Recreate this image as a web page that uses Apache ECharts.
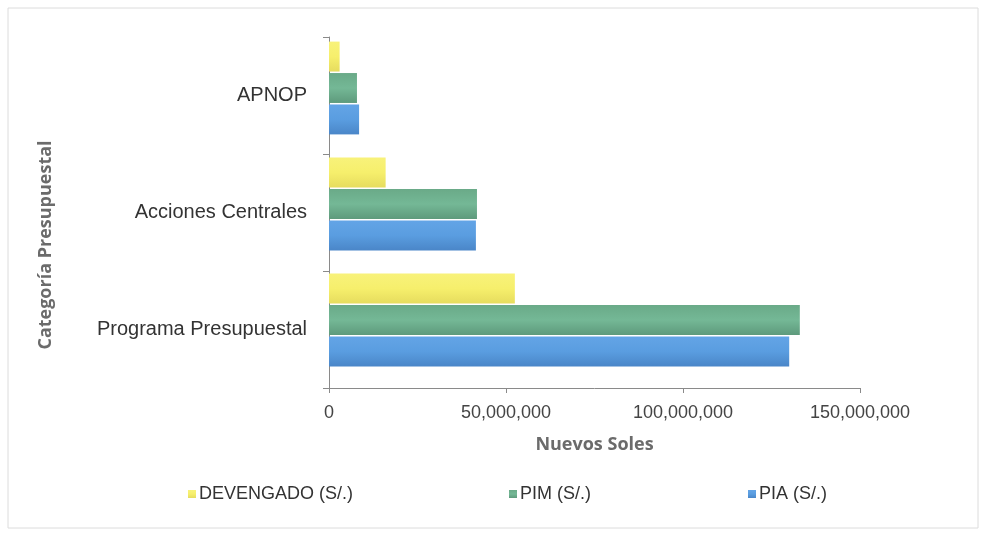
<!DOCTYPE html>
<html>
<head>
<meta charset="utf-8">
<script src="https://cdn.jsdelivr.net/npm/echarts@6/dist/echarts.min.js"></script>
<style>html,body{margin:0;padding:0;background:#fff}#c{width:988px;height:536px}</style>
</head>
<body>
<div id="c"></div>
<script>
const categories = ['Programa Presupuestal', 'Acciones Centrales', 'APNOP'];
const piaValues = [130000000, 41500000, 8500000];
const pimValues = [133000000, 41800000, 7900000];
const devengadoValues = [52500000, 16000000, 3000000];
const xTicks = [0, 50000000, 100000000, 150000000];

const FONT = '"Liberation Sans", Arial, sans-serif';
const TFONT = '"Open Sans", "Noto Sans", sans-serif';
function grad(c1, c2, c3) {
  return new echarts.graphic.LinearGradient(0, 0, 0, 1, [
    {offset: 0, color: c1}, {offset: 0.5, color: c2}, {offset: 1, color: c3}
  ]);
}
const barBase = {type: 'bar', xAxisIndex: 0, yAxisIndex: 0, barGap: '5%', barCategoryGap: '20%'};
const chart = echarts.init(document.getElementById('c'));
chart.setOption({
  animation: false,
  backgroundColor: '#fff',
  graphic: [{
    type: 'rect', shape: {x: 8, y: 8, width: 970, height: 520},
    style: {fill: 'none', stroke: '#dcdcdc', lineWidth: 1}, silent: true
  }, {
    type: 'text', x: 46, y: 245, rotation: Math.PI / 2,
    style: {text: 'Categoría Presupuestal', font: 'bold 18px ' + TFONT, fill: '#6b6b6b',
            align: 'center', verticalAlign: 'middle'}, silent: true
  }],
  grid: [
    {left: 329, right: 128, top: 30, bottom: 158, containLabel: false},
    {left: 329, right: 128, top: 37, bottom: 148, containLabel: false}
  ],
  xAxis: [{
    gridIndex: 0, type: 'value', min: 0, max: 150000000, interval: 50000000, show: false
  }, {
    gridIndex: 1, type: 'value', min: 0, max: 150000000, interval: 50000000,
    name: 'Nuevos Soles', nameLocation: 'middle', nameGap: 48,
    nameTextStyle: {fontFamily: TFONT, fontWeight: 'bold', fontSize: 18, color: '#6b6b6b'},
    axisLine: {show: true, lineStyle: {color: '#8a8a8a'}},
    axisTick: {show: true, length: 5, lineStyle: {color: '#8a8a8a'}},
    splitLine: {show: false},
    axisLabel: {
      fontFamily: FONT, fontSize: 18, color: '#444', margin: 16,
      formatter: v => xTicks.includes(v) ? v.toLocaleString('en-US') : ''
    }
  }],
  yAxis: [{
    gridIndex: 0, type: 'category', data: categories, show: false
  }, {
    gridIndex: 1, type: 'category', data: categories,
    axisLine: {show: true, lineStyle: {color: '#8a8a8a'}},
    axisTick: {show: true, length: 6, lineStyle: {color: '#8a8a8a'}},
    axisLabel: {fontFamily: FONT, fontSize: 20, color: '#333', margin: 22}
  }],
  legend: [
    {data: ['DEVENGADO (S/.)'], left: 183, top: 480},
    {data: ['PIM (S/.)'], left: 504, top: 480},
    {data: ['PIA (S/.)'], left: 743, top: 480}
  ].map(l => Object.assign(l, {
    icon: 'rect', itemWidth: 8, itemHeight: 8, itemGap: 4,
    textStyle: {fontFamily: FONT, fontSize: 18, color: '#333', padding: [0, 0, 0, -2]}
  })),
  series: [
    Object.assign({name: 'DEVENGADO (S/.)', data: devengadoValues,
     itemStyle: {color: grad('#f8f27a', '#f6ef6c', '#e6dc5e')}}, barBase),
    Object.assign({name: 'PIM (S/.)', data: pimValues,
     itemStyle: {color: grad('#6aaa88', '#74b896', '#5e9a7c')}}, barBase),
    Object.assign({name: 'PIA (S/.)', data: piaValues,
     itemStyle: {color: grad('#63a4e6', '#5a9de0', '#4a86c8')}}, barBase)
  ]
});
</script>
</body>
</html>
